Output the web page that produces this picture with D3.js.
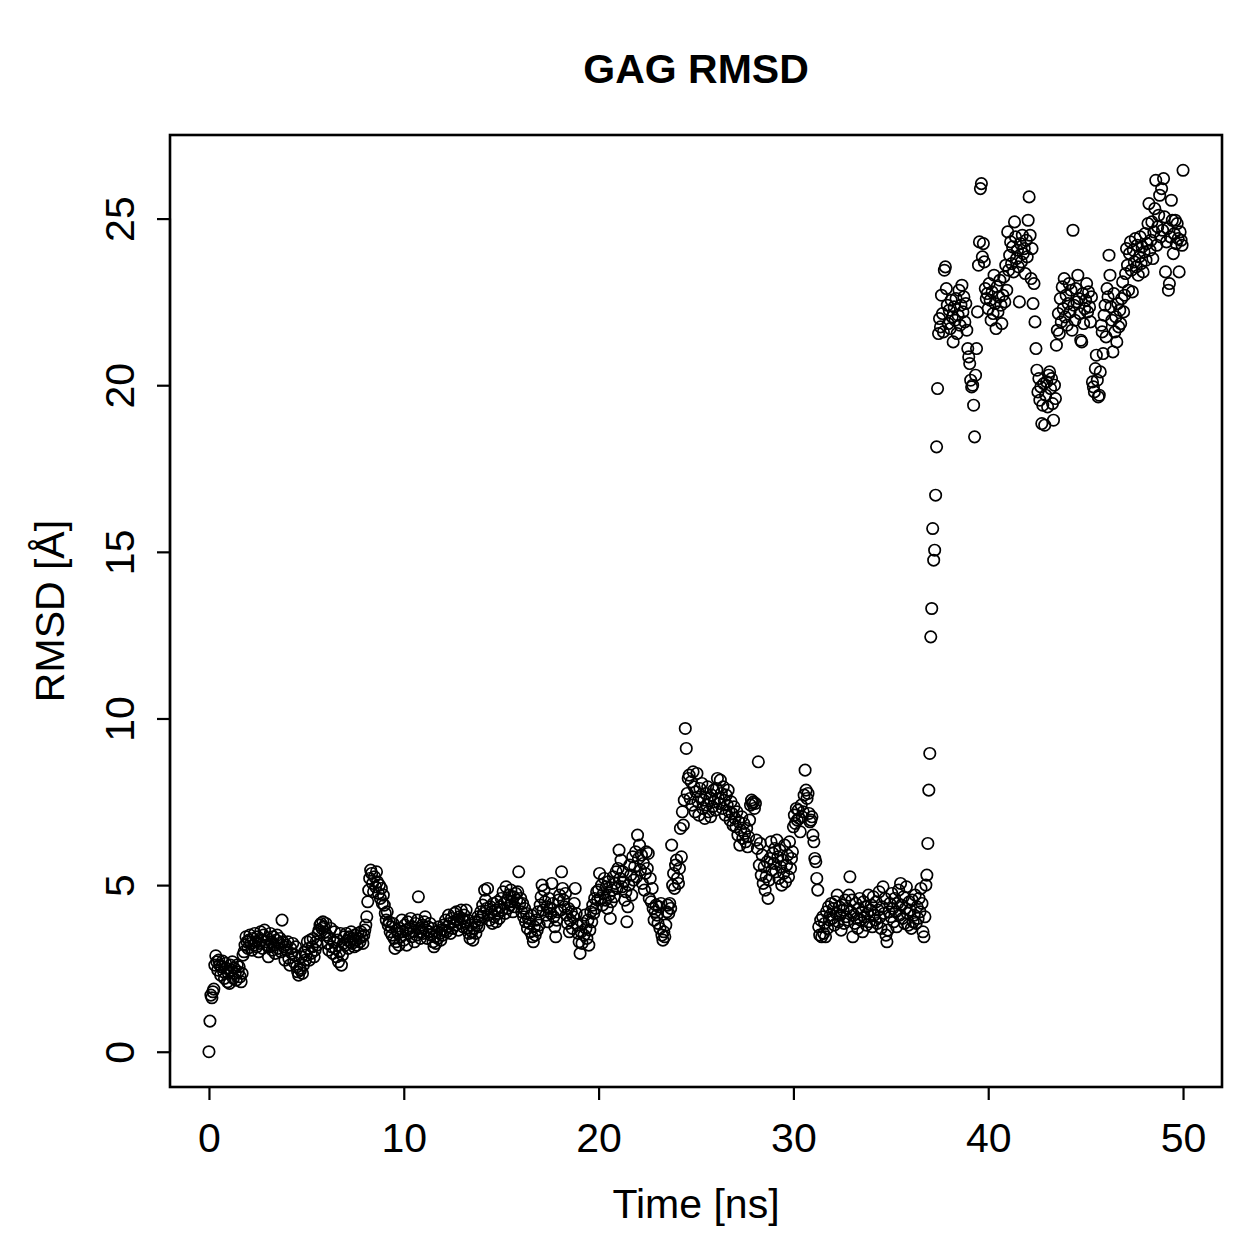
<!DOCTYPE html>
<html>
<head>
<meta charset="utf-8">
<script src="https://cdn.jsdelivr.net/npm/d3@7"></script>
<style>
  html, body { margin: 0; padding: 0; background: #fff; }
  svg { display: block; }
  text { font-family: "Liberation Sans", Arial, Helvetica, sans-serif; fill: #000; }
</style>
</head>
<body>
<svg id="chart" width="1259" height="1259"></svg>
<script>
// ---- Data (RMSD in Å, sampled every 0.05 ns from 0 to 50 ns) ----
const chartTitle = "GAG RMSD";
const xLabel = "Time [ns]";
const yLabel = "RMSD [Å]";
const timeStep = 0.05;
const xTicks = [0, 10, 20, 30, 40, 50];
const yTicks = [0, 5, 10, 15, 20, 25];

const rmsd_0_10 = [
  0.00,0.92,1.70,1.62,1.80,1.88,2.60,2.88,2.70,2.45,2.75,2.60,2.30,2.55,2.72,2.40,2.20,2.65,2.50,2.10,
  2.35,2.05,2.60,2.45,2.70,2.20,2.50,2.35,2.15,2.60,2.40,2.55,2.25,2.10,2.35,2.90,3.00,3.20,3.45,3.30,
  3.10,3.35,3.50,3.25,3.05,3.40,3.20,3.55,3.30,3.15,3.45,3.00,3.25,3.60,3.35,3.10,3.50,3.65,3.30,3.20,
  3.40,2.85,3.15,3.55,3.30,3.05,3.45,3.20,2.95,3.35,3.50,3.10,3.25,3.40,3.00,3.95,3.30,3.15,2.75,3.20,
  3.05,3.30,2.80,2.60,3.10,2.95,3.25,2.70,2.90,3.15,2.55,2.40,2.30,2.50,2.45,2.85,2.35,2.60,3.00,2.75,
  2.90,3.30,3.10,2.75,3.35,2.95,3.15,3.40,2.85,3.05,3.30,3.20,3.55,3.65,3.80,3.85,3.70,3.90,3.75,3.60,
  3.85,3.50,3.25,3.05,3.40,3.70,3.15,2.95,3.30,3.60,3.10,2.85,3.35,2.70,3.00,3.55,2.60,2.90,3.25,3.45,
  3.20,3.55,3.35,3.10,3.45,3.30,3.60,3.25,3.40,3.15,3.50,3.35,3.20,3.55,3.40,3.30,3.60,3.45,3.25,3.50,
  3.65,3.80,4.05,4.50,4.85,5.20,5.45,5.35,5.05,4.80,5.25,4.95,5.40,5.10,4.75,5.00,4.60,4.90,4.45,4.70,
  4.40,4.15,3.95,4.20,3.80,3.90,3.60,3.75,3.50,3.85,3.40,3.10,3.30,3.65,3.55,3.20,3.70,3.45,3.95,3.60
];
const rmsd_10_20 = [
  3.35,3.80,3.65,3.20,3.90,3.55,3.70,4.00,3.45,3.75,3.60,3.30,3.85,3.50,3.95,4.65,3.70,3.40,3.60,3.80,
  3.55,3.90,4.05,3.65,3.40,3.75,3.60,3.85,3.50,3.70,3.30,3.15,3.45,3.25,3.60,3.40,3.75,3.55,3.35,3.65,
  3.50,3.80,3.65,3.95,3.60,3.75,4.10,3.85,3.55,4.00,3.70,3.90,4.15,3.80,4.20,3.95,3.65,4.05,3.85,4.25,
  4.00,3.75,4.10,3.90,4.25,3.70,3.95,3.55,3.40,3.80,3.60,3.35,3.70,3.90,3.55,3.80,4.05,3.75,3.95,4.20,
  4.05,4.40,4.15,4.85,4.55,4.30,4.90,4.10,3.95,4.35,4.20,3.85,4.45,4.05,4.25,3.90,4.50,4.15,4.00,4.35,
  4.60,4.25,4.80,4.45,4.15,4.95,4.55,4.30,4.70,4.40,4.85,4.50,4.20,4.65,4.35,4.75,4.55,4.80,5.40,4.45,
  4.60,4.20,4.45,4.05,4.30,3.90,4.15,3.70,4.00,3.85,3.60,4.10,3.45,3.30,3.75,3.50,3.95,3.65,4.20,3.80,
  4.40,4.65,5.00,4.25,4.85,4.50,4.10,4.35,3.90,4.60,4.30,4.15,5.05,4.45,4.05,3.75,3.45,3.95,4.20,4.55,
  4.70,4.25,5.40,4.90,4.55,4.35,4.75,4.10,3.85,4.30,3.60,3.95,4.20,3.70,4.05,4.45,4.90,4.15,3.80,3.55,
  3.30,2.95,3.60,3.25,3.85,3.50,4.10,3.70,3.40,3.95,3.20,3.65,4.20,3.90,4.40,4.15,4.60,4.30,4.80,4.55
];
const rmsd_20_30 = [
  4.85,5.35,4.60,5.00,4.40,4.75,5.20,4.55,4.95,4.30,5.10,4.70,4.00,4.50,4.85,5.25,4.65,5.05,5.40,4.90,
  5.50,6.05,5.20,5.75,4.95,5.40,5.10,4.55,4.80,3.90,4.35,5.00,5.60,5.30,4.70,5.85,5.15,5.55,6.00,5.25,
  6.50,5.80,6.20,5.45,5.90,5.05,5.65,4.85,5.35,6.00,5.50,5.95,4.60,5.20,4.50,4.90,4.30,3.95,4.20,4.40,
  4.10,3.85,4.35,3.70,4.45,3.50,3.35,3.60,3.45,3.80,4.20,4.40,4.15,4.45,4.30,6.20,5.00,5.35,4.90,5.60,
  5.75,5.20,5.05,5.50,6.70,5.85,7.20,6.80,7.55,9.70,9.10,7.75,8.20,8.30,7.60,8.10,7.40,8.40,7.95,7.20,
  7.80,8.35,7.50,7.10,7.90,7.65,8.05,7.30,7.55,7.00,7.75,7.40,7.95,7.20,7.60,7.05,7.70,7.35,7.85,7.50,
  7.25,7.90,8.20,7.60,7.45,8.15,7.75,7.30,7.95,7.55,7.10,7.70,7.40,7.85,7.20,6.95,7.50,7.15,6.80,7.35,
  7.00,6.75,7.20,6.50,6.90,6.20,6.65,7.05,6.40,6.85,6.55,6.30,6.70,6.15,6.45,6.95,7.40,7.55,7.45,7.50,
  7.30,7.45,6.35,6.10,8.70,5.60,6.25,5.30,5.90,5.05,5.55,4.85,5.25,5.70,4.60,5.15,5.80,6.30,5.45,5.95,
  5.65,6.10,5.40,6.35,5.85,5.20,6.05,5.55,5.00,5.75,5.35,6.20,5.10,5.60,5.90,5.25,6.30,5.50,5.80,6.00
];
const rmsd_30_40 = [
  6.75,7.10,6.85,7.30,6.95,7.25,7.00,6.60,7.40,7.05,7.20,7.70,8.45,7.85,7.60,7.75,7.15,6.90,6.95,7.05,
  6.50,6.30,5.80,5.70,5.20,4.85,3.75,3.50,3.95,3.45,4.05,3.55,3.85,3.45,4.20,3.70,4.35,3.95,4.10,4.45,
  4.00,4.30,3.80,4.50,4.15,4.70,3.90,4.35,4.10,3.65,4.40,4.25,3.85,4.55,4.05,4.30,3.95,4.70,5.25,4.20,
  4.55,3.45,4.10,3.85,4.45,4.00,3.70,4.30,4.60,3.95,4.20,3.60,4.50,4.05,4.35,3.80,4.15,4.70,3.90,4.25,
  4.40,3.75,4.65,4.10,3.95,4.50,3.85,4.25,4.80,4.05,3.70,4.35,4.95,4.15,4.60,3.50,3.30,3.65,4.20,4.45,
  4.05,4.75,4.30,3.90,4.60,4.20,3.75,4.45,4.85,4.10,5.05,4.40,4.00,4.65,3.85,4.30,4.95,4.15,3.80,4.50,
  4.25,3.70,4.55,3.90,4.10,4.70,3.85,4.35,4.00,4.60,4.20,4.90,4.45,3.60,3.45,4.05,5.00,5.30,6.25,7.85,
  8.95,12.45,13.30,15.70,14.75,15.05,16.70,18.15,19.90,21.55,22.00,21.75,22.70,22.15,21.60,23.45,23.55,22.90,22.40,21.85,
  22.25,21.70,22.55,22.05,21.30,22.35,21.95,22.60,21.55,22.10,22.85,21.80,22.40,23.00,22.20,22.65,21.90,22.45,21.65,21.10,
  20.85,20.65,20.15,19.95,20.00,19.40,18.45,20.30,21.10,22.20,23.60,24.30,25.90,26.05,23.85,24.25,23.70,22.90,22.60,22.75
];
const rmsd_40_50 = [
  22.30,23.05,22.55,21.95,22.80,22.15,23.30,22.45,21.70,22.95,22.20,22.65,23.15,22.40,21.85,22.70,23.25,22.50,23.60,22.85,
  24.60,23.45,23.90,24.30,23.65,24.15,23.40,24.90,24.45,23.80,24.05,23.55,22.50,24.25,23.70,24.50,23.95,24.10,23.35,24.35,
  23.85,24.95,25.65,24.50,23.20,24.10,22.45,23.05,21.90,21.10,20.45,19.80,20.20,19.55,19.95,18.85,19.40,20.05,18.80,19.70,
  20.10,19.35,20.30,20.40,19.90,20.20,19.45,18.95,20.00,19.60,21.20,21.65,22.15,21.55,22.60,21.90,22.95,22.30,23.20,22.05,
  22.70,21.80,22.45,23.05,22.20,22.85,21.65,24.65,22.40,21.95,22.90,22.50,23.30,22.60,22.15,21.35,21.30,22.75,21.85,22.30,
  22.55,23.05,22.20,22.80,22.35,21.90,22.65,20.10,19.95,19.80,20.50,20.90,20.15,19.65,19.70,20.40,21.80,21.60,20.95,22.10,
  22.40,21.45,22.90,22.65,23.90,23.30,22.35,21.95,21.00,22.75,21.60,22.05,21.30,22.45,21.75,22.25,21.85,22.60,23.10,22.20,
  22.70,23.35,24.10,23.60,22.85,23.95,24.30,23.45,22.80,24.05,23.70,24.40,23.55,24.20,23.30,23.85,24.45,23.65,24.15,23.40,
  24.00,24.55,23.75,24.25,24.85,25.45,24.05,24.35,24.90,23.80,24.60,25.30,26.15,24.20,24.75,25.10,25.70,24.45,25.90,24.65,
  26.20,25.05,23.40,24.30,24.70,22.85,23.05,24.45,25.55,24.95,23.95,24.55,24.95,24.25,24.85,24.40,23.40,24.60,24.35,24.20,
  26.45
];

const rmsd = [].concat(rmsd_0_10, rmsd_10_20, rmsd_20_30, rmsd_30_40, rmsd_40_50);
const data = rmsd.map((v, i) => ({ t: +(i * timeStep).toFixed(2), v }));

// ---- Layout ----
const plot = { left: 170, right: 1222, top: 135, bottom: 1087 };
const svg = d3.select("#chart");

// R-style 4% padding of the data range
const tExt = d3.extent(data, d => d.t);
const vExt = d3.extent(data, d => d.v);
const tPad = (tExt[1] - tExt[0]) * 0.04;
const vPad = (vExt[1] - vExt[0]) * 0.04;

const x = d3.scaleLinear().domain([tExt[0] - tPad, tExt[1] + tPad]).range([plot.left, plot.right]);
const y = d3.scaleLinear().domain([vExt[0] - vPad, vExt[1] + vPad]).range([plot.bottom, plot.top]);

// Points
svg.append("g")
  .selectAll("circle")
  .data(data)
  .join("circle")
  .attr("cx", d => x(d.t))
  .attr("cy", d => y(d.v))
  .attr("r", 5.7)
  .attr("fill", "none")
  .attr("stroke", "#000")
  .attr("stroke-width", 1.7);

// Box
svg.append("rect")
  .attr("x", plot.left).attr("y", plot.top)
  .attr("width", plot.right - plot.left).attr("height", plot.bottom - plot.top)
  .attr("fill", "none").attr("stroke", "#000").attr("stroke-width", 2.6);

const tickFont = 41;

// X axis
const gx = svg.append("g")
  .attr("transform", `translate(0,${plot.bottom})`)
  .call(d3.axisBottom(x).tickValues(xTicks).tickSize(13).tickPadding(23).tickFormat(d3.format("d")));
gx.select(".domain").remove();
gx.append("line")
  .attr("x1", x(xTicks[0])).attr("x2", x(xTicks[xTicks.length - 1]))
  .attr("y1", 0).attr("y2", 0).attr("stroke", "#000").attr("stroke-width", 2.2);
gx.selectAll(".tick line").attr("stroke", "#000").attr("stroke-width", 2.2);
gx.selectAll(".tick text")
  .attr("font-size", tickFont)
  .attr("font-family", "Liberation Sans, Arial, sans-serif")
  .attr("fill", "#000");

// Y axis
const gy = svg.append("g")
  .attr("transform", `translate(${plot.left},0)`)
  .call(d3.axisLeft(y).tickValues(yTicks).tickSize(13).tickFormat(d3.format("d")));
gy.select(".domain").remove();
gy.append("line")
  .attr("x1", 0).attr("x2", 0)
  .attr("y1", y(yTicks[0])).attr("y2", y(yTicks[yTicks.length - 1]))
  .attr("stroke", "#000").attr("stroke-width", 2.2);
gy.selectAll(".tick line").attr("stroke", "#000").attr("stroke-width", 2.2);
gy.selectAll(".tick text")
  .attr("font-size", tickFont)
  .attr("font-family", "Liberation Sans, Arial, sans-serif")
  .attr("fill", "#000")
  .attr("transform", "rotate(-90)")
  .attr("x", 0)
  .attr("y", -36)
  .attr("dy", "0")
  .attr("text-anchor", "middle");

// Axis titles
svg.append("text")
  .attr("x", (plot.left + plot.right) / 2)
  .attr("y", 1218)
  .attr("text-anchor", "middle")
  .attr("font-size", tickFont)
  .text(xLabel);

svg.append("text")
  .attr("transform", `translate(64,${(plot.top + plot.bottom) / 2}) rotate(-90)`)
  .attr("text-anchor", "middle")
  .attr("font-size", tickFont)
  .text(yLabel);

// Title
svg.append("text")
  .attr("x", (plot.left + plot.right) / 2)
  .attr("y", 83)
  .attr("text-anchor", "middle")
  .attr("font-size", 41)
  .attr("font-weight", "bold")
  .text(chartTitle);
</script>
</body>
</html>
